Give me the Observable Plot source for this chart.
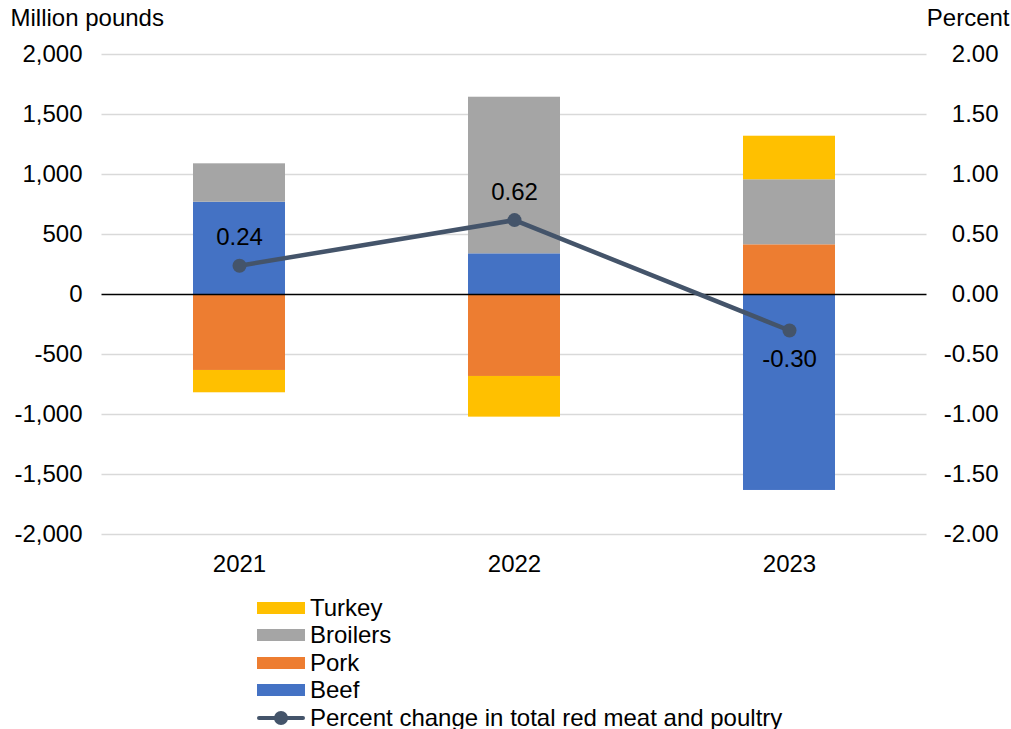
<!DOCTYPE html>
<html>
<head>
<meta charset="utf-8">
<script src="https://cdn.jsdelivr.net/npm/d3@7"></script>
<script src="https://cdn.jsdelivr.net/npm/@observablehq/plot@0.6"></script>
<style>
  html, body { margin: 0; padding: 0; background: #fff; }
  body { width: 1011px; height: 729px; overflow: hidden; font-family: "Liberation Sans", Arial, sans-serif; }
  #legend { margin-left: 257px; margin-top: 4px; font-size: 24px; color: #000; }
  .row { display: flex; align-items: center; height: 27.5px; }
  .sw { width: 48px; height: 12px; margin-right: 5px; }
  .ln { width: 48px; height: 14px; margin-right: 5px; position: relative; }
  .ln .bar { position: absolute; left: 0; right: 0; top: 5px; height: 4.5px; background: #44546A; border-radius: 2px; }
  .ln .dot { position: absolute; left: 17px; top: 0; width: 14px; height: 14px; border-radius: 50%; background: #44546A; }
</style>
</head>
<body>
<div id="chart"></div>
<div id="legend"></div>
<script>
const years = ["2021", "2022", "2023"];
const beef = [769, 339, -1633];
const pork = [-633, -683, 414];
const broilers = [320, 1305, 542];
const turkey = [-186, -339, 363];
const pctChange = [0.24, 0.62, -0.30];
const leftTicks = [-2000, -1500, -1000, -500, 0, 500, 1000, 1500, 2000];
const rightTicks = [-2, -1.5, -1, -0.5, 0, 0.5, 1, 1.5, 2];
const seriesNames = ["Beef", "Pork", "Broilers", "Turkey"];
const seriesColors = ["#4472C4", "#ED7D31", "#A5A5A5", "#FFC000"];
const legendOrder = ["Turkey", "Broilers", "Pork", "Beef"];
const lineName = "Percent change in total red meat and poultry";

const seriesValues = {Beef: beef, Pork: pork, Broilers: broilers, Turkey: turkey};
const barData = [];
for (const name of seriesNames) {
  years.forEach((y, i) => barData.push({year: y, type: name, value: seriesValues[name][i]}));
}
const lineData = years.map((y, i) => ({year: y, pct: pctChange[i]}));
const PCT = 1000; // 1.00 percent on the right axis equals 1,000 on the left axis

const font = '"Liberation Sans", Arial, sans-serif';

const chart = Plot.plot({
  width: 1011,
  height: 590,
  marginLeft: 101.5,
  marginRight: 84.5,
  marginTop: 54,
  marginBottom: 56,
  style: {fontSize: "24px", fontFamily: font, color: "#000", background: "#fff"},
  x: {domain: years, paddingInner: 0.665, paddingOuter: 0.3325, label: null},
  y: {domain: [-2000, 2000], label: null},
  color: {domain: seriesNames, range: seriesColors},
  marks: [
    Plot.ruleY(leftTicks.filter(d => d !== 0), {stroke: "#D9D9D9", strokeWidth: 1.5}),
    Plot.barY(barData, Plot.stackY({x: "year", y: "value", fill: "type", order: seriesNames})),
    Plot.ruleY([0], {stroke: "#000", strokeWidth: 1.5}),
    Plot.axisY({ticks: leftTicks, tickSize: 0, tickPadding: 19.5, tickFormat: d => d.toLocaleString("en-US"), label: null}),
    Plot.text(rightTicks, {y: d => d * PCT, text: d => d.toFixed(2), frameAnchor: "right", textAnchor: "end", dx: 71.5}),
    Plot.axisX({tickSize: 0, tickPadding: 20, label: null}),
    Plot.line(lineData, {x: "year", y: d => d.pct * PCT, stroke: "#44546A", strokeWidth: 4.5}),
    Plot.dot(lineData, {x: "year", y: d => d.pct * PCT, r: 7, fill: "#44546A", stroke: "none"}),
    Plot.text(lineData.filter(d => d.pct >= 0), {x: "year", y: d => d.pct * PCT, text: d => d.pct.toFixed(2), dy: -28, fill: "#000"}),
    Plot.text(lineData.filter(d => d.pct < 0), {x: "year", y: d => d.pct * PCT, text: d => d.pct.toFixed(2), dy: 29, fill: "#000"}),
    Plot.text(["Million pounds"], {frameAnchor: "top-left", textAnchor: "start", lineAnchor: "middle", dx: 10 - 101.5, dy: -36}),
    Plot.text(["Percent"], {frameAnchor: "top-right", textAnchor: "end", lineAnchor: "middle", dx: 1009 - 926.5, dy: -36})
  ]
});
document.getElementById("chart").appendChild(chart);

const legend = document.getElementById("legend");
for (const name of legendOrder) {
  const row = document.createElement("div");
  row.className = "row";
  const sw = document.createElement("div");
  sw.className = "sw";
  sw.style.background = seriesColors[seriesNames.indexOf(name)];
  const t = document.createElement("span");
  t.textContent = name;
  row.appendChild(sw); row.appendChild(t);
  legend.appendChild(row);
}
const lrow = document.createElement("div");
lrow.className = "row";
lrow.innerHTML = '<div class="ln"><div class="bar"></div><div class="dot"></div></div><span></span>';
lrow.querySelector("span").textContent = lineName;
legend.appendChild(lrow);
</script>
</body>
</html>
